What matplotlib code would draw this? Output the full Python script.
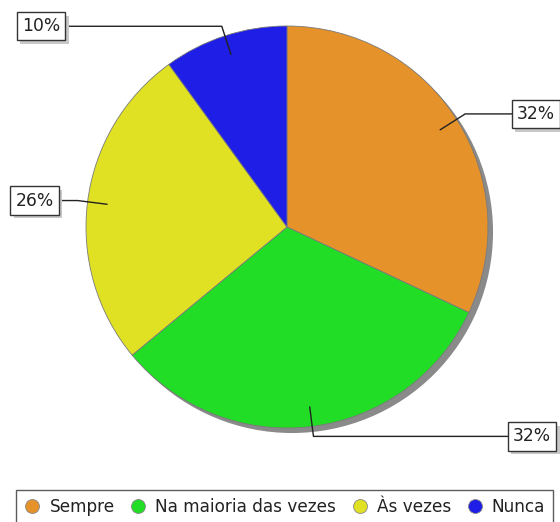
import numpy as np
import matplotlib
matplotlib.use("Agg")
import matplotlib.pyplot as plt
from matplotlib.patches import Circle
import matplotlib.patheffects as pe

categories = ["Sempre", "Na maioria das vezes", "Às vezes", "Nunca"]
values = [32, 32, 26, 10]
labels = ["32%", "32%", "26%", "10%"]
colors = ["#E5922B", "#21DD26", "#E1E124", "#1E1EE6"]

W, H = 560, 522
fig = plt.figure(figsize=(W / 100, H / 100), dpi=100)
ax = fig.add_axes([0, 0, 1, 1])
R_PX = 201.0
cx, cy = 287.0, 227.0
ax.axis("off")

# shadow
ax.add_patch(Circle((0.025, -0.025), 1.0, fc="#8a8a8a", ec="none", zorder=0))

wedges, _ = ax.pie(values, colors=colors, startangle=90, counterclock=False,
                   radius=1.0, center=(0, 0),
                   wedgeprops=dict(edgecolor="#7a7a7a", linewidth=0.6))
for w in wedges:
    w.set_zorder(1)
ax.set_xlim(-cx / R_PX, (W - cx) / R_PX)
ax.set_ylim(-(H - cy) / R_PX, cy / R_PX)
ax.set_aspect("auto")

label_x = [1.239, 1.219, -1.256, -1.224]

total = float(sum(values))
cum = 0.0
for i, v in enumerate(values):
    mid = 90 - 360 * (cum + v / 2) / total
    cum += v
    a = np.deg2rad(mid)
    ix, iy = 0.9 * np.cos(a), 0.9 * np.sin(a)
    ex, ey = 1.05 * np.cos(a), 1.05 * np.sin(a)
    tx = label_x[i]
    ax.plot([ix, ex, tx], [iy, ey, ey], color="#222222", lw=1.0, zorder=3,
            solid_capstyle="butt")
    t = ax.text(tx, ey, labels[i], fontsize=12.3, ha="center", va="center",
                color="#222222", zorder=5,
                bbox=dict(boxstyle="square,pad=0.3", fc="white", ec="#333333", lw=1.0))
    t.get_bbox_patch().set_path_effects([
        pe.SimplePatchShadow(offset=(2.5, -2.5), shadow_rgbFace="#c8c8c8", alpha=1.0),
        pe.Normal()])

handles = [plt.Line2D([], [], marker="o", linestyle="none", markersize=10,
                      markerfacecolor=c, markeredgecolor="#888888", markeredgewidth=0.6)
           for c in colors]
leg = fig.legend(handles, categories, loc="upper center",
                 bbox_to_anchor=(284.5 / W, 1 - 490 / H), ncol=4, fontsize=12.2,
                 frameon=True, fancybox=False, edgecolor="#333333",
                 handlelength=1.0, handletextpad=0.5, columnspacing=0.9,
                 borderpad=0.45, borderaxespad=0)
leg.get_frame().set_linewidth(1.0)
for t in leg.get_texts():
    t.set_color("#222222")

fig.savefig("out.png", dpi=100)
